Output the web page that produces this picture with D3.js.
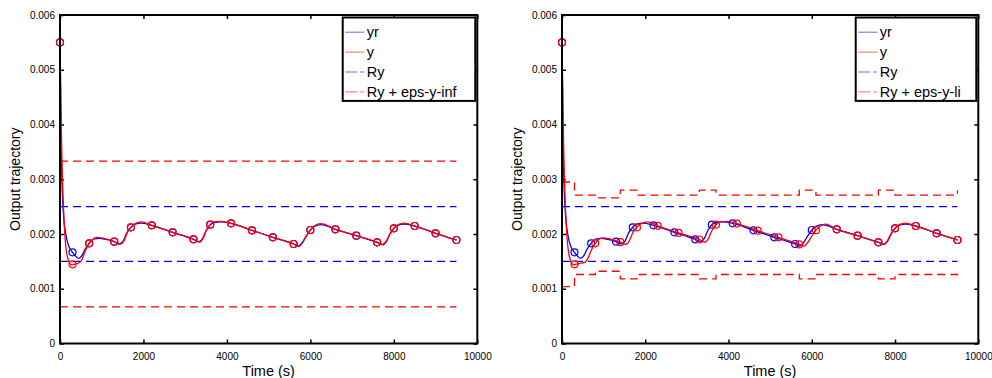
<!DOCTYPE html>
<html>
<head>
<meta charset="utf-8">
<script src="https://cdn.jsdelivr.net/npm/d3@7"></script>
<style>
  body { margin: 0; background: #fff; }
  svg { display: block; font-family: "Liberation Sans", Arial, sans-serif; }
</style>
</head>
<body>
<svg id="chart" width="992" height="378"></svg>
<script>
// ---- data ----
const xTicks = [0, 2000, 4000, 6000, 8000, 10000];
const yTicks = [0, 0.001, 0.002, 0.003, 0.004, 0.005, 0.006];
const tEnd = 9500;

const ryLevels = [0.0015, 0.0025];
const epsInfLevels = [0.00067, 0.00333];

// time-varying bound (right panel), step after each time
const stepTimes = [0, 300, 800, 1400, 1800, 3300, 3700, 5700, 6100, 7600, 8000, 9500];
const epsLiUpper = [0.00295, 0.00271, 0.00266, 0.0028, 0.00271, 0.0028, 0.00271, 0.0028, 0.00271, 0.0028, 0.00271, 0.0028];
const epsLiLower = [0.00104, 0.00126, 0.00132, 0.00118, 0.00126, 0.00118, 0.00126, 0.00118, 0.00126, 0.00118, 0.00126, 0.00118];

// reference trajectory yr (same in both panels)
const yrCurve = [
  [0, 0.0055], [30, 0.0035], [80, 0.0024], [150, 0.00195], [220, 0.00176], [300, 0.001666],
  [380, 0.00159], [450, 0.001556], [520, 0.0016], [600, 0.00172], [700, 0.00183], [820, 0.00191],
  [950, 0.00192], [1100, 0.0019], [1300, 0.00186], [1430, 0.00182], [1520, 0.00188], [1600, 0.00202],
  [1700, 0.002122], [1800, 0.00218], [1950, 0.0022], [2200, 0.002159], [2700, 0.002031], [3200, 0.001903],
  [3330, 0.00186], [3420, 0.00192], [3500, 0.00206], [3600, 0.00217], [3700, 0.00221], [3850, 0.00222],
  [4100, 0.002195], [4600, 0.002068], [5100, 0.00194], [5600, 0.001817], [5720, 0.00178], [5800, 0.00184],
  [5900, 0.00196], [6000, 0.002073], [6100, 0.00214], [6250, 0.00217], [6600, 0.002086], [7100, 0.001969],
  [7600, 0.001848], [7730, 0.00181], [7820, 0.00187], [7900, 0.00199], [8000, 0.002104], [8100, 0.00216],
  [8250, 0.00218], [8500, 0.002146], [9000, 0.002013], [9500, 0.00189]
];
const yrMarkT = [0, 300, 700, 1300, 1700, 2200, 2700, 3200, 3600, 4100, 4600, 5100, 5600, 6000, 6600, 7100, 7600, 8000, 8500, 9000, 9500];
const yrMarkV = [0.0055, 0.001666, 0.00183, 0.00186, 0.002122, 0.002159, 0.002031, 0.001903, 0.00217, 0.002195, 0.002068,
  0.00194, 0.001817, 0.002073, 0.002086, 0.001969, 0.001848, 0.002104, 0.002146, 0.002013, 0.00189];

// output y, left panel
const yLeftCurve = [
  [0, 0.0055], [40, 0.0036], [100, 0.0022], [180, 0.00158], [280, 0.001434], [350, 0.00145],
  [450, 0.00147], [520, 0.00152], [600, 0.00168], [700, 0.00183], [780, 0.0019], [880, 0.00194],
  [1000, 0.00193], [1300, 0.00186], [1440, 0.00181], [1530, 0.00187], [1610, 0.00202], [1700, 0.002122],
  [1800, 0.00219], [1950, 0.00222], [2200, 0.002159], [2700, 0.002031], [3200, 0.001903], [3340, 0.00185],
  [3430, 0.00192], [3510, 0.00207], [3600, 0.00217], [3700, 0.00222], [3850, 0.00223], [4100, 0.002195],
  [4600, 0.002068], [5100, 0.00194], [5600, 0.001817], [5730, 0.00177], [5810, 0.00184], [5910, 0.00197],
  [6000, 0.002073], [6100, 0.00215], [6250, 0.00219], [6600, 0.002086], [7100, 0.001969], [7600, 0.001848],
  [7740, 0.0018], [7830, 0.00187], [7910, 0.002], [8000, 0.002104], [8100, 0.00217], [8250, 0.0022],
  [8500, 0.002146], [9000, 0.002013], [9500, 0.00189]
];
const yLeftMarkT = [0, 300, 700, 1300, 1700, 2200, 2700, 3200, 3600, 4100, 4600, 5100, 5600, 6000, 6600, 7100, 7600, 8000, 8500, 9000, 9500];
const yLeftMarkV = [0.0055, 0.001447, 0.00183, 0.00186, 0.002122, 0.002159, 0.002031, 0.001903, 0.00217, 0.002195, 0.002068,
  0.00194, 0.001817, 0.002073, 0.002086, 0.001969, 0.001848, 0.002104, 0.002146, 0.002013, 0.00189];

// output y, right panel (lags yr by ~100 s until ~6600)
const yRightCurve = [
  [0, 0.0055], [40, 0.0036], [100, 0.0022], [180, 0.00158], [280, 0.001434], [400, 0.00146],
  [550, 0.00148], [620, 0.00155], [700, 0.0017], [800, 0.00183], [900, 0.00191], [1000, 0.00193],
  [1150, 0.00191], [1400, 0.00185], [1530, 0.00181], [1620, 0.00188], [1700, 0.00202], [1800, 0.00212],
  [1900, 0.00219], [2050, 0.00222], [2300, 0.00215], [2800, 0.00202], [3300, 0.0019], [3430, 0.00185],
  [3520, 0.00192], [3600, 0.00206], [3700, 0.00217], [3800, 0.00222], [3950, 0.00223], [4200, 0.00219],
  [4700, 0.00206], [5200, 0.00194], [5700, 0.00181], [5820, 0.00178], [5900, 0.00184], [6000, 0.00196],
  [6100, 0.00207], [6200, 0.00214], [6330, 0.00218], [6600, 0.002086], [7100, 0.001969], [7600, 0.001848],
  [7730, 0.00181], [7820, 0.00188], [7900, 0.002], [8000, 0.002104], [8100, 0.00217], [8250, 0.0022],
  [8500, 0.002146], [9000, 0.002013], [9500, 0.00189]
];
const yRightMarkT = [0, 300, 800, 1400, 1800, 2300, 2800, 3300, 3700, 4200, 4700, 5200, 5700, 6100, 6600, 7100, 7600, 8000, 8500, 9000, 9500];
const yRightMarkV = [0.0055, 0.001447, 0.00183, 0.00185, 0.00212, 0.00215, 0.00202, 0.0019, 0.00217, 0.00219, 0.00206,
  0.00194, 0.00181, 0.00207, 0.002086, 0.001969, 0.001848, 0.002104, 0.002146, 0.002013, 0.00189];

const legendLabels = [["yr", "y", "Ry", "Ry + eps-y-inf"], ["yr", "y", "Ry", "Ry + eps-y-li"]];

// ---- layout ----
const TOP = 15, BOTTOM = 343.5;
const BLUE = "#0000ff", RED = "#ff0000";
const svg = d3.select("#chart");

function drawPanel(left, right, legendW, labels, yCurve, yMarkT, yMarkV, boundLines) {
  const x = d3.scaleLinear().domain([0, 10000]).range([left, right]);
  const y = d3.scaleLinear().domain([0, 0.006]).range([BOTTOM, TOP]);
  const g = svg.append("g");

  // axes (ticks point inward, MATLAB style)
  g.append("g")
    .attr("transform", "translate(0," + BOTTOM + ")")
    .call(d3.axisBottom(x).tickValues(xTicks).tickSizeInner(-4).tickSizeOuter(0).tickPadding(9.5).tickFormat(d3.format("d")))
    .call(a => a.select(".domain").remove());
  g.append("g")
    .attr("transform", "translate(" + left + ",0)")
    .call(d3.axisLeft(y).tickValues(yTicks).tickSizeInner(-4).tickSizeOuter(0).tickPadding(5).tickFormat(d => d === 0 ? "0" : d3.format(".3f")(d)))
    .call(a => a.select(".domain").remove());
  g.append("g")
    .attr("transform", "translate(0," + TOP + ")")
    .call(d3.axisTop(x).tickValues(xTicks).tickSizeInner(-4).tickSizeOuter(0).tickFormat(""))
    .call(a => a.select(".domain").remove());
  g.append("g")
    .attr("transform", "translate(" + right + ",0)")
    .call(d3.axisRight(y).tickValues(yTicks).tickSizeInner(-4).tickSizeOuter(0).tickFormat(""))
    .call(a => a.select(".domain").remove());
  g.selectAll(".tick line").attr("stroke", "#000").attr("stroke-width", 1.5);
  g.selectAll(".tick text").attr("font-size", 10).attr("fill", "#000").attr("font-family", "Liberation Sans, Arial, sans-serif");

  // constant reference band
  g.selectAll("line.ry").data(ryLevels).join("line")
    .attr("x1", x(0)).attr("x2", x(tEnd)).attr("y1", d => y(d)).attr("y2", d => y(d))
    .attr("stroke", BLUE).attr("stroke-width", 1.3).attr("stroke-dasharray", "8,5");

  // bound lines
  const stepLine = d3.line().x(d => x(d[0])).y(d => y(d[1])).curve(d3.curveStepAfter);
  boundLines.forEach(b => {
    g.append("path").attr("d", stepLine(b)).attr("fill", "none")
      .attr("stroke", RED).attr("stroke-width", 1.3).attr("stroke-dasharray", "8,5");
  });

  const smooth = d3.line().x(d => x(d[0])).y(d => y(d[1])).curve(d3.curveMonotoneX);

  // yr
  g.append("path").attr("d", smooth(yrCurve)).attr("fill", "none").attr("stroke", BLUE).attr("stroke-width", 1.3);
  g.selectAll("circle.yr").data(d3.zip(yrMarkT, yrMarkV)).join("circle")
    .attr("cx", d => x(d[0])).attr("cy", d => y(d[1])).attr("r", 3.5)
    .attr("fill", "none").attr("stroke", BLUE).attr("stroke-width", 1.2);

  // y
  g.append("path").attr("d", smooth(yCurve)).attr("fill", "none").attr("stroke", RED).attr("stroke-width", 1.3);
  g.selectAll("circle.y").data(d3.zip(yMarkT, yMarkV)).join("circle")
    .attr("cx", d => x(d[0])).attr("cy", d => y(d[1])).attr("r", 3.5)
    .attr("fill", "none").attr("stroke", RED).attr("stroke-width", 1.2);

  // box
  g.append("rect").attr("x", left).attr("y", TOP).attr("width", right - left).attr("height", BOTTOM - TOP)
    .attr("fill", "none").attr("stroke", "#000").attr("stroke-width", 2);

  // axis titles
  g.append("text").attr("x", (left + right) / 2).attr("y", 376).attr("text-anchor", "middle")
    .attr("font-size", 14.5).text("Time (s)");
  g.append("text").attr("transform", "translate(" + (left - 40) + "," + ((TOP + BOTTOM) / 2) + ") rotate(-90)")
    .attr("text-anchor", "middle").attr("font-size", 14).text("Output trajectory");

  // legend
  const lx = right - 2 - legendW, ly = TOP + 2.5;
  const lg = g.append("g");
  lg.append("rect").attr("x", lx).attr("y", ly).attr("width", legendW).attr("height", 83.4)
    .attr("fill", "#fff").attr("stroke", "#000").attr("stroke-width", 2);
  const styles = [[BLUE, null], [RED, null], [BLUE, "12,3"], [RED, "12,3"]];
  labels.forEach((lab, i) => {
    const cy = ly + 14.7 + i * 19.9;
    lg.append("line").attr("x1", lx + 2.5).attr("x2", lx + 21.5).attr("y1", cy).attr("y2", cy)
      .attr("stroke", styles[i][0]).attr("stroke-width", 1).attr("stroke-opacity", 0.6)
      .attr("stroke-dasharray", styles[i][1]);
    lg.append("text").attr("x", lx + 24).attr("y", cy + 5).attr("font-size", 14.5).text(lab);
  });
}

drawPanel(60, 477.3, 132.6, legendLabels[0], yLeftCurve, yLeftMarkT, yLeftMarkV,
  [[[0, epsInfLevels[0]], [tEnd, epsInfLevels[0]]],
   [[0, epsInfLevels[1]], [tEnd, epsInfLevels[1]]]]);
drawPanel(562, 978.3, 120.6, legendLabels[1], yRightCurve, yRightMarkT, yRightMarkV,
  [d3.zip(stepTimes, epsLiUpper), d3.zip(stepTimes, epsLiLower)]);
</script>
</body>
</html>
